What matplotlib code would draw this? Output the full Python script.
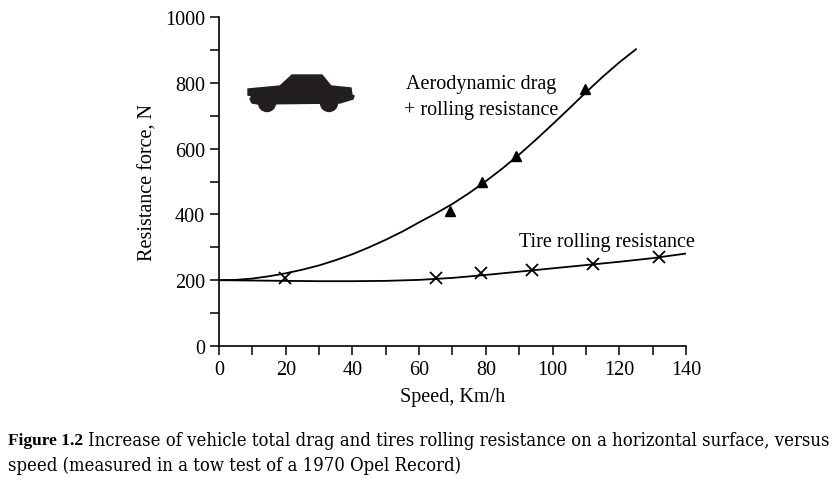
import matplotlib
matplotlib.use("Agg")
import matplotlib.pyplot as plt
from matplotlib.patches import Polygon, Ellipse
from matplotlib.ticker import MultipleLocator

plt.rcParams['font.family'] = ['Liberation Serif', 'DejaVu Serif']

# fitted curves (speed km/h, force N)
aero_v = [0, 5, 10, 15, 20, 25, 30, 35, 40, 45, 50, 55, 60, 65, 70,
          75, 80, 85, 90, 95, 100, 105, 110, 115, 120, 125]
aero_f = [200, 201, 205, 212, 221, 232, 245, 261, 279, 300, 323, 348, 376, 403, 432,
          465, 501, 540, 582, 627, 674, 722, 771, 818, 862, 902]

tire_v = [0, 10, 20, 30, 40, 50, 60, 70, 80, 90, 100, 110, 120, 130, 140]
tire_f = [200, 199, 198, 197, 197, 198, 201, 207, 216, 226, 236, 246, 256, 267, 281]

# measured points
tri_v = [69.2, 78.7, 89.0, 109.7]
tri_f = [411, 497, 578, 781]

cross_v = [19.8, 65.0, 78.5, 93.7, 112.2, 131.8]
cross_f = [207, 206, 222, 232, 248, 272]

fig = plt.figure(figsize=(8.34, 4.85), dpi=100)
ax = fig.add_axes([219/834, 1 - 347/485, 467/834, 329/485])

ax.plot(aero_v, aero_f, color='black', lw=1.3)
ax.plot(tire_v, tire_f, color='black', lw=1.3)
ax.plot(tri_v, tri_f, ls='none', marker='^', color='black', ms=7)
ax.plot(cross_v, cross_f, ls='none', marker='x', color='black', ms=8, mew=1.3)

ax.set_xlim(0, 140)
ax.set_ylim(0, 1000)
ax.xaxis.set_major_locator(MultipleLocator(20))
ax.xaxis.set_minor_locator(MultipleLocator(10))
ax.yaxis.set_major_locator(MultipleLocator(200))
ax.yaxis.set_minor_locator(MultipleLocator(100))
for side in ['top', 'right']:
    ax.spines[side].set_visible(False)
for side in ['left', 'bottom']:
    ax.spines[side].set_linewidth(1.2)
ax.tick_params(which='both', direction='out', length=6.5, width=1.1,
               labelsize=14.5, pad=3.5)
ax.set_xlabel('Speed, Km/h', fontsize=14.5, labelpad=6)
ax.set_ylabel('Resistance force, N', fontsize=14.5, labelpad=5)

ax.text(78.5, 758, 'Aerodynamic drag\n+ rolling resistance', fontsize=14.5,
        ha='center', va='center', linespacing=1.45)
ax.text(142.6, 319, 'Tire rolling resistance', fontsize=14.5, ha='right', va='center')

# car silhouette, in figure pixels
car = [(248, 90), (280, 87), (292, 76), (322, 76), (331, 87), (351, 89),
       (352, 96), (354, 97), (353, 100), (340, 104), (258, 105), (252, 104),
       (250, 100), (252, 97), (248, 96)]
fig.add_artist(Polygon([(x / 834, 1 - y / 485) for x, y in car],
                       closed=True, color='#231f20', transform=fig.transFigure))
for wx in [267, 329]:
    fig.add_artist(Ellipse((wx / 834, 1 - 104 / 485), 17 / 834, 17 / 485,
                           color='#231f20', transform=fig.transFigure))

# caption
cap = dict(family=['DejaVu Serif'], fontstretch='condensed', va='center')
fig.text(8 / 834, 1 - 441 / 485, 'Figure 1.2', fontsize=12.5, fontweight='bold',
         family=['Liberation Serif'], va='center')
fig.text(88 / 834, 1 - 441 / 485,
         'Increase of vehicle total drag and tires rolling resistance on a horizontal surface, versus',
         fontsize=13.2, **cap)
fig.text(8 / 834, 1 - 466 / 485, 'speed (measured in a tow test of a 1970 Opel Record)',
         fontsize=13.2, **cap)

fig.savefig('out.png', dpi=100)
